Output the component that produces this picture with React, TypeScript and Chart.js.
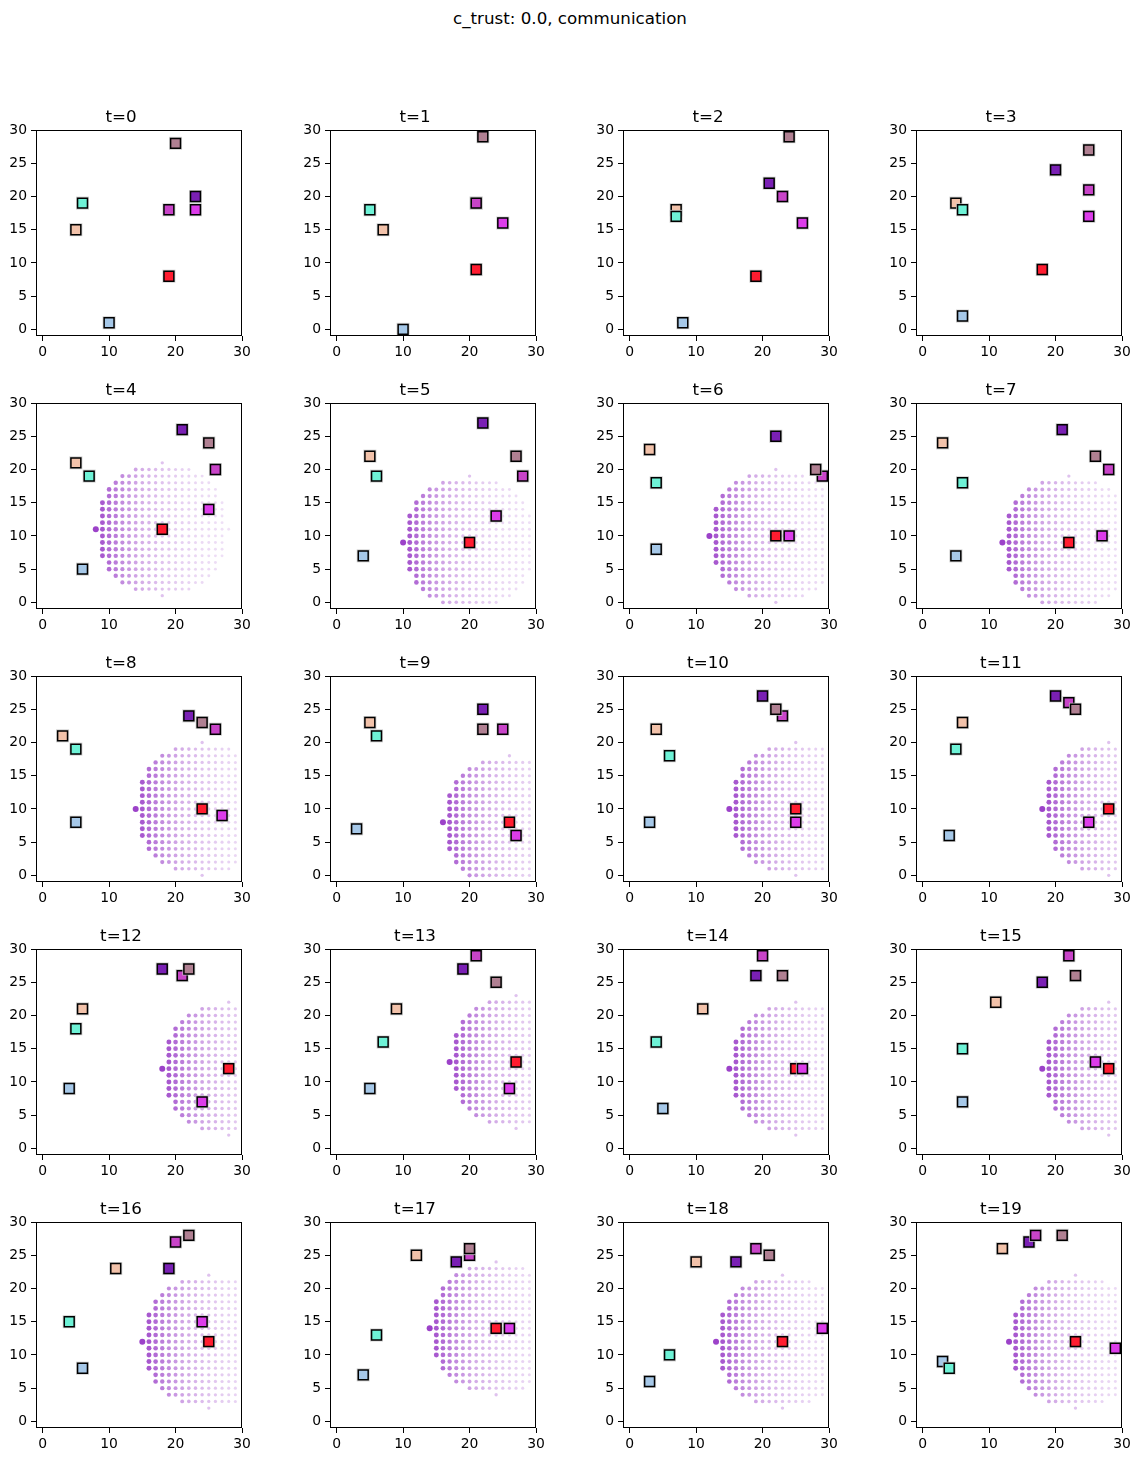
import React, { useEffect, useRef } from 'react';
import { Chart, registerables } from 'chart.js';

Chart.register(...registerables);

// ---------- data ----------
const SUPTITLE = 'c_trust: 0.0, communication';
const stepLabels = [
  't=0', 't=1', 't=2', 't=3', 't=4', 't=5', 't=6', 't=7', 't=8', 't=9',
  't=10', 't=11', 't=12', 't=13', 't=14', 't=15', 't=16', 't=17', 't=18', 't=19',
];
const xTicks = [0, 10, 20, 30];
const yTicks = [0, 5, 10, 15, 20, 25, 30];

// agent positions per time step (t = 0..19)
const blueX = [10, 10, 8, 6, 6, 4, 4, 5, 5, 3, 3, 4, 4, 5, 5, 6, 6, 4, 3, 3];
const blueY = [1, 0, 1, 2, 5, 7, 8, 7, 8, 7, 8, 6, 9, 9, 6, 7, 8, 7, 6, 9];
const peachX = [5, 7, 7, 5, 5, 5, 3, 3, 3, 5, 4, 6, 6, 9, 11, 11, 11, 12, 10, 12];
const peachY = [15, 15, 18, 19, 21, 22, 23, 24, 21, 23, 22, 23, 21, 21, 21, 22, 23, 25, 24, 26];
const cyanX = [6, 5, 7, 6, 7, 6, 4, 6, 5, 6, 6, 5, 5, 7, 4, 6, 4, 6, 6, 4];
const cyanY = [19, 18, 17, 18, 19, 19, 18, 18, 19, 21, 18, 19, 18, 16, 16, 15, 15, 13, 10, 8];
const purpleX = [23, 21, 21, 20, 21, 22, 22, 21, 22, 22, 20, 20, 18, 19, 19, 18, 19, 18, 16, 16];
const purpleY = [20, 19, 22, 24, 26, 27, 25, 26, 24, 25, 27, 27, 27, 27, 26, 25, 23, 24, 24, 27];
const orchidX = [19, 21, 23, 25, 26, 28, 29, 28, 26, 25, 23, 22, 21, 21, 20, 22, 20, 20, 19, 17];
const orchidY = [18, 19, 20, 21, 20, 19, 19, 20, 22, 22, 24, 26, 26, 29, 29, 29, 27, 25, 26, 28];
const mauveX = [20, 22, 24, 25, 25, 27, 28, 26, 24, 22, 22, 23, 22, 24, 23, 23, 22, 20, 21, 21];
const mauveY = [28, 29, 29, 27, 24, 22, 20, 22, 23, 22, 25, 25, 27, 25, 26, 26, 28, 26, 25, 28];
const redX = [19, 21, 19, 18, 18, 20, 22, 22, 24, 26, 25, 28, 28, 27, 25, 28, 25, 24, 23, 23];
const redY = [8, 9, 8, 9, 11, 9, 10, 9, 10, 8, 10, 10, 12, 13, 12, 12, 12, 14, 12, 12];
const magentaX = [23, 25, 26, 25, 25, 24, 24, 27, 27, 27, 25, 25, 24, 26, 26, 26, 24, 26, 29, 29];
const magentaY = [18, 16, 16, 17, 14, 13, 10, 10, 9, 6, 8, 8, 7, 9, 12, 13, 15, 14, 14, 11];

// belief field: centre of the disc of grid cells (null = not shown)
const fieldCx = [null, null, null, null, 18, 20, 22, 22, 24, 26, 25, 28, 28, 27, 25, 28, 25, 24, 23, 23];
const fieldCy = [null, null, null, null, 11, 9, 10, 9, 10, 8, 10, 10, 12, 13, 12, 12, 12, 14, 12, 12];
const FIELD_RADIUS = 10;
const GRID_MIN = 0;
const GRID_MAX = 29;

// ---------- styles ----------
const agents = [
  { xs: blueX, ys: blueY, color: '#a6c8e8' },
  { xs: peachX, ys: peachY, color: '#f2c2aa' },
  { xs: cyanX, ys: cyanY, color: '#6ef2d6' },
  { xs: purpleX, ys: purpleY, color: '#7a20b4' },
  { xs: orchidX, ys: orchidY, color: '#c844c8' },
  { xs: mauveX, ys: mauveY, color: '#b08092' },
  { xs: redX, ys: redY, color: '#ff1c30' },
  { xs: magentaX, ys: magentaY, color: '#dc3cea' },
];

const axLefts = [36, 330, 623, 916];
const axTops = [130, 403, 676, 949, 1222];
const AX_W = 206;
const AX_H = 206;
const Y_AXIS_W = 36;
const X_AXIS_H = 24;
const TITLE_H = 34;
const RIGHT_PAD = 14;
const FONT = "'DejaVu Sans', sans-serif";

const framePlugin = {
  id: 'frame',
  afterDatasetsDraw(chart: any) {
    const { ctx, chartArea } = chart;
    const { left, top, right, bottom } = chartArea;
    ctx.save();
    ctx.strokeStyle = '#000';
    ctx.lineWidth = 1;
    ctx.strokeRect(Math.round(left) + 0.5, Math.round(top) + 0.5, Math.round(right - left) - 1, Math.round(bottom - top) - 1);
    ctx.restore();
  },
};

function buildField(t: number) {
  const cx = fieldCx[t];
  const cy = fieldCy[t];
  const pts: { x: number; y: number }[] = [];
  const colors: string[] = [];
  const radii: number[] = [];
  if (cx === null || cy === null) return { pts, colors, radii };
  const apexX = cx - FIELD_RADIUS;
  for (let gx = GRID_MIN; gx <= GRID_MAX; gx++) {
    for (let gy = GRID_MIN; gy <= GRID_MAX; gy++) {
      const d2 = (gx - cx) * (gx - cx) + (gy - cy) * (gy - cy);
      if (d2 > FIELD_RADIUS * FIELD_RADIUS) continue;
      const dx = gx - apexX;
      const w = Math.exp(-dx / 7);
      const a = 0.1 + 0.8 * w;
      pts.push({ x: gx, y: gy });
      colors.push(`rgba(145,45,195,${a.toFixed(3)})`);
      radii.push(dx === 0 ? 3.0 : 1.35 + 1.3 * w);
    }
  }
  return { pts, colors, radii };
}

function Panel({ t }: { t: number }) {
  const ref = useRef<HTMLCanvasElement | null>(null);
  useEffect(() => {
    if (!ref.current) return;
    const field = buildField(t);
    const drawOrder: any[] = [];
    drawOrder.push({
      data: field.pts,
      pointStyle: 'circle',
      pointRadius: field.radii,
      pointBackgroundColor: field.colors,
      pointBorderWidth: 0,
      showLine: false,
    });
    for (const ag of agents) {
      const pt = [{ x: ag.xs[t], y: ag.ys[t] }];
      drawOrder.push({
        data: pt,
        pointStyle: 'rect',
        pointRadius: 9.2,
        pointBackgroundColor: 'rgba(200,200,200,0.85)',
        pointBorderWidth: 0,
        showLine: false,
      });
      drawOrder.push({
        data: pt,
        pointStyle: 'rect',
        pointRadius: 7.0,
        pointBackgroundColor: ag.color,
        pointBorderColor: '#000',
        pointBorderWidth: 1.5,
        showLine: false,
      });
    }
    const datasets = drawOrder.slice().reverse();

    const tickFont = { family: FONT, size: 13.9 };
    const chart = new Chart(ref.current, {
      type: 'scatter',
      data: { datasets },
      plugins: [framePlugin],
      options: {
        responsive: false,
        animation: false,
        events: [],
        devicePixelRatio: 1,
        layout: { padding: { left: 0, top: 0, right: RIGHT_PAD, bottom: 0 } },
        plugins: {
          legend: { display: false },
          tooltip: { enabled: false },
          title: {
            display: true,
            text: stepLabels[t],
            color: '#000',
            font: { family: FONT, size: 16.7, weight: 'normal', lineHeight: 1.2 },
            padding: { top: 12, bottom: 2 },
          },
        },
        scales: {
          x: {
            type: 'linear',
            min: -1,
            max: 30,
            afterBuildTicks: (s: any) => {
              s.ticks = xTicks.map((v) => ({ value: v }));
            },
            afterFit: (s: any) => {
              s.height = X_AXIS_H;
            },
            grid: { drawOnChartArea: false, drawTicks: true, tickLength: 5, color: '#000', lineWidth: 1 },
            border: { display: false },
            ticks: { color: '#000', font: tickFont, padding: 3, maxRotation: 0, autoSkip: false },
          },
          y: {
            type: 'linear',
            min: -1,
            max: 30,
            afterBuildTicks: (s: any) => {
              s.ticks = yTicks.map((v) => ({ value: v }));
            },
            afterFit: (s: any) => {
              s.width = Y_AXIS_W;
            },
            grid: { drawOnChartArea: false, drawTicks: true, tickLength: 5, color: '#000', lineWidth: 1 },
            border: { display: false },
            ticks: { color: '#000', font: tickFont, padding: 4, autoSkip: false },
          },
        },
      } as any,
    });
    return () => chart.destroy();
  }, [t]);

  const col = t % 4;
  const row = Math.floor(t / 4);
  const w = Y_AXIS_W + AX_W + RIGHT_PAD;
  const h = TITLE_H + AX_H + X_AXIS_H;
  return (
    <canvas
      ref={ref}
      width={w}
      height={h}
      style={{
        position: 'absolute',
        left: axLefts[col] - Y_AXIS_W,
        top: axTops[row] - TITLE_H,
        width: w,
        height: h,
      }}
    />
  );
}

export default function App() {
  return (
    <div
      style={{
        position: 'absolute',
        left: 0,
        top: 0,
        width: 1140,
        height: 1462,
        background: '#fff',
        overflow: 'hidden',
      }}
    >
      <div
        style={{
          position: 'absolute',
          left: 0,
          top: 8,
          width: 1140,
          textAlign: 'center',
          fontFamily: FONT,
          fontSize: 16.7,
          lineHeight: '20px',
          color: '#000',
        }}
      >
        {SUPTITLE}
      </div>
      {stepLabels.map((_, t) => (
        <Panel key={t} t={t} />
      ))}
    </div>
  );
}
